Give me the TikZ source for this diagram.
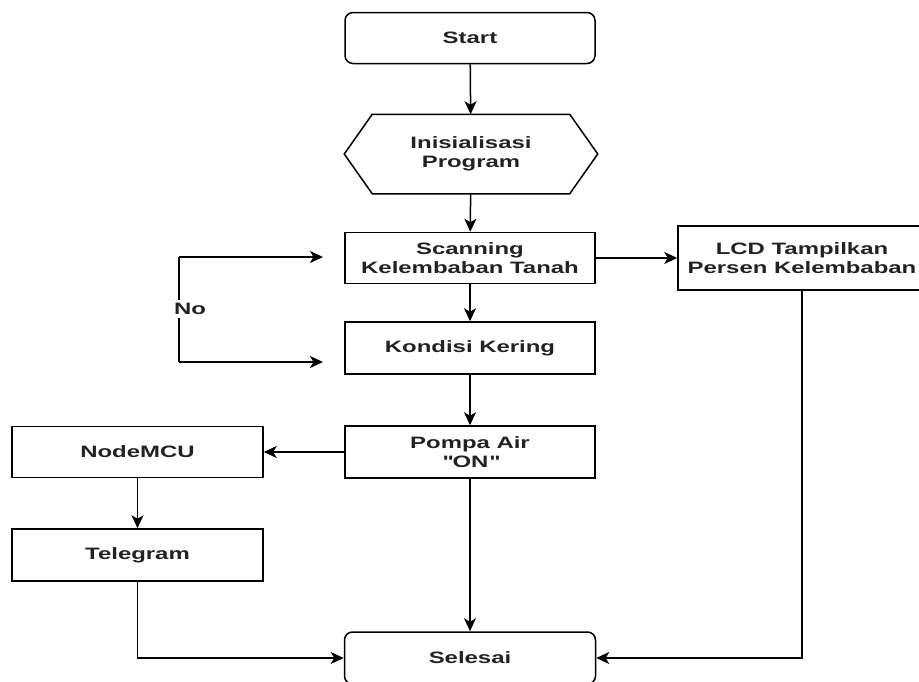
\documentclass[tikz,border=0pt]{standalone}
\usepackage{fontspec}
\setmainfont{Liberation Sans}[FakeStretch=1.45]
\usetikzlibrary{arrows.meta}
\definecolor{txt}{HTML}{222222}
\tikzset{
  box/.style={draw=black, line width=1.5pt, fill=white, minimum width=250pt, minimum height=51pt, inner sep=0pt,
    align=center, text=txt, font=\bfseries\fontsize{16.5}{19}\selectfont},
  rbox/.style={box, rounded corners=8pt},
  conn/.style={line width=1.5pt, -{Stealth[length=13pt,width=12pt,inset=3.5pt]}},
  plain/.style={line width=1.5pt}
}
\begin{document}
\begin{tikzpicture}[x=1pt,y=-1pt]
\useasboundingbox (0,0) rectangle (919,681);
\clip (0,0) rectangle (919,681);
\node[rbox] (start) at (470,38) {Start};
\node[box, draw=none, fill=none, minimum width=252pt, minimum height=78pt] (init) at (471,154) {Inisialisasi\\Program};
\draw[plain] (init.west) -- ([xshift=28pt]init.north west) -- ([xshift=-28pt]init.north east) -- (init.east)
  -- ([xshift=-28pt]init.south east) -- ([xshift=28pt]init.south west) -- cycle;
\node[box] (scan) at (470,258) {Scanning\\Kelembaban Tanah};
\node[box, minimum width=248pt, minimum height=64pt] (lcd) at (802,258) {LCD Tampilkan\\Persen Kelembaban};
\node[box, minimum height=52pt] (kond) at (470,348) {Kondisi Kering};
\node[box, minimum height=52pt] (pompa) at (470,452) {Pompa Air\\\textquotedbl\kern2pt ON\kern1pt\textquotedbl};
\node[box, minimum width=251pt] (nmcu) at (137.5,452) {NodeMCU};
\node[box, minimum width=251pt, minimum height=52pt] (tele) at (137.5,555) {Telegram};
\node[rbox, minimum width=251pt, minimum height=52pt] (sel) at (470,658) {Selesai};

\draw[conn] (start) -- (init);
\draw[conn] (init) -- (scan);
\draw[conn] (scan) -- (kond);
\draw[conn] (kond) -- (pompa);
\draw[conn] (pompa) -- (sel);
\draw[conn] (scan) -- (lcd);
\draw[conn] (lcd.south) |- (sel.east);
\draw[conn] (pompa) -- (nmcu);
\draw[conn] (nmcu) -- (tele);
\draw[conn] (tele.south) |- (sel.west);

\coordinate (la) at (179,257);
\coordinate (lb) at (179,362);
\coordinate (ta) at (323,257);
\coordinate (tb) at (323,362);
\draw[conn] (la) -- (ta);
\draw[conn] (lb) -- (tb);
\draw[plain] (la) -- (lb);
\node[fill=white, inner sep=3pt, text=txt, font=\bfseries\fontsize{16.5}{19}\selectfont] (no) at (190,309) {No};
\end{tikzpicture}
\end{document}
